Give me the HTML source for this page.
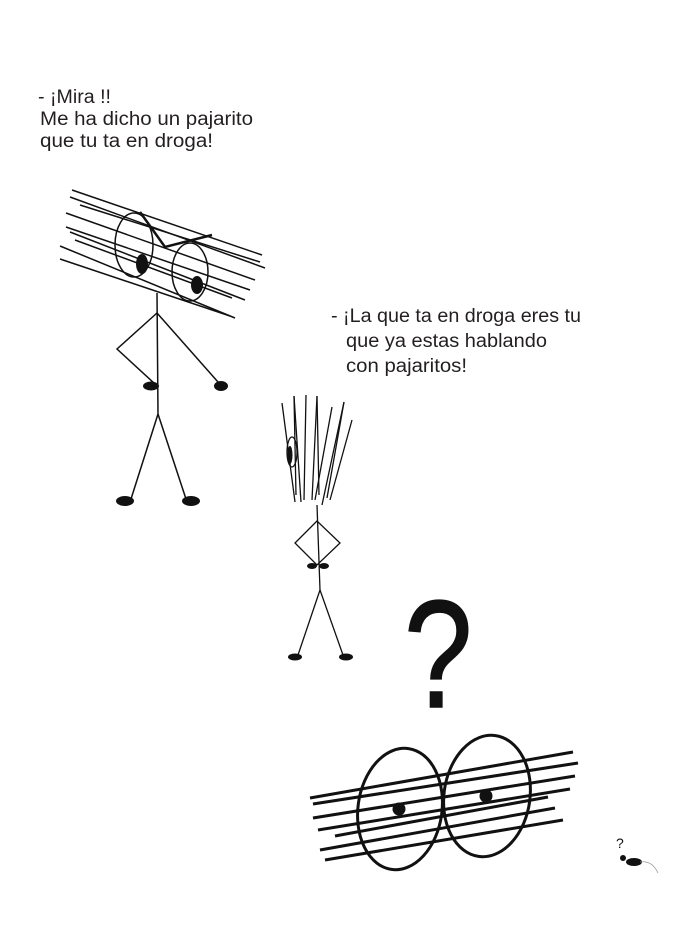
<!DOCTYPE html>
<html><head><meta charset="utf-8"><style>
html,body{margin:0;padding:0;background:#fff;width:691px;height:929px;overflow:hidden}
svg text{font-family:"Liberation Sans",sans-serif;fill:#231f20}
</style></head><body>
<svg width="691" height="929" viewBox="0 0 691 929" xmlns="http://www.w3.org/2000/svg">
<rect width="691" height="929" fill="#fff"/>
<g font-size="19" lengthAdjust="spacingAndGlyphs">
<text x="38" y="103" textLength="73" lengthAdjust="spacingAndGlyphs">- ¡Mira !!</text>
<text x="40" y="125" textLength="213" lengthAdjust="spacingAndGlyphs">Me ha dicho un pajarito</text>
<text x="40" y="147" textLength="173" lengthAdjust="spacingAndGlyphs">que tu ta en droga!</text>
<text x="331" y="322" textLength="250" lengthAdjust="spacingAndGlyphs">- ¡La que ta en droga eres tu</text>
<text x="346" y="347" textLength="201" lengthAdjust="spacingAndGlyphs">que ya estas hablando</text>
<text x="346" y="372" textLength="121" lengthAdjust="spacingAndGlyphs">con pajaritos!</text>
</g>
<!-- figure 1 -->
<g stroke="#111" fill="none" stroke-width="1.5">
<line x1="72" y1="190" x2="262" y2="255"/>
<line x1="70" y1="197" x2="265" y2="268"/>
<line x1="66" y1="213" x2="255" y2="280"/>
<line x1="66" y1="227" x2="250" y2="290"/>
<line x1="75" y1="240" x2="232" y2="298"/>
<line x1="60" y1="246" x2="235" y2="318"/>
<line x1="60" y1="259" x2="230" y2="316"/>
<line x1="80" y1="205" x2="260" y2="262"/>
<line x1="70" y1="232" x2="245" y2="300"/>
<ellipse cx="134" cy="245" rx="19" ry="32"/>
<ellipse cx="190" cy="272" rx="18" ry="29"/>
<polyline points="140,212 165,247 212,235" stroke-width="2.5"/>
<line x1="157" y1="293" x2="158" y2="414"/>
<polyline points="157,313 117,349 155,384"/>
<line x1="157" y1="313" x2="218" y2="382"/>
<line x1="158" y1="414" x2="131" y2="499"/>
<line x1="158" y1="414" x2="186" y2="499"/>
</g>
<g fill="#111">
<ellipse cx="142" cy="264" rx="6" ry="10"/>
<ellipse cx="197" cy="285" rx="6" ry="9"/>
<ellipse cx="151" cy="386" rx="8" ry="4.5"/>
<ellipse cx="221" cy="386" rx="7" ry="5"/>
<ellipse cx="125" cy="501" rx="9" ry="5"/>
<ellipse cx="191" cy="501" rx="9" ry="5"/>
</g>
<!-- figure 2 -->
<g stroke="#111" fill="none" stroke-width="1.3">
<line x1="282" y1="403" x2="295" y2="502"/>
<line x1="294" y1="396" x2="301" y2="502"/>
<line x1="306" y1="395" x2="304" y2="500"/>
<line x1="317" y1="396" x2="312" y2="500"/>
<line x1="332" y1="407" x2="315" y2="500"/>
<line x1="344" y1="402" x2="322" y2="505"/>
<line x1="352" y1="420" x2="330" y2="500"/>
<line x1="294" y1="396" x2="296" y2="495"/>
<line x1="317" y1="396" x2="319" y2="495"/>
<line x1="344" y1="402" x2="327" y2="498"/>
<ellipse cx="292" cy="452" rx="5" ry="15"/>
<line x1="317" y1="505" x2="320" y2="590"/>
<polygon points="317,521 295,543 317,565 340,543"/>
<line x1="320" y1="590" x2="298" y2="655"/>
<line x1="320" y1="590" x2="343" y2="655"/>
</g>
<g fill="#111">
<ellipse cx="290" cy="455" rx="2.5" ry="9"/>
<ellipse cx="312" cy="566" rx="5" ry="3"/>
<ellipse cx="324" cy="566" rx="5" ry="3"/>
<ellipse cx="295" cy="657" rx="7" ry="3.5"/>
<ellipse cx="346" cy="657" rx="7" ry="3.5"/>
</g>
<text x="0" y="0" font-size="150" transform="translate(404,707) scale(0.82,1.02)" style="fill:#111;stroke:#111;stroke-width:1.5">?</text>
<!-- figure 3 -->
<g stroke="#111" fill="none" stroke-width="3">
<line x1="310" y1="798" x2="573" y2="752"/>
<line x1="313" y1="804" x2="578" y2="763"/>
<line x1="313" y1="818" x2="575" y2="776"/>
<line x1="318" y1="830" x2="570" y2="789"/>
<line x1="335" y1="836" x2="548" y2="797"/>
<line x1="320" y1="850" x2="555" y2="808"/>
<line x1="325" y1="860" x2="563" y2="820"/>
<ellipse cx="400" cy="809" rx="42" ry="61" transform="rotate(8 400 809)"/>
<ellipse cx="487" cy="796" rx="43" ry="61" transform="rotate(8 487 796)"/>
</g>
<g fill="#111">
<circle cx="399" cy="809" r="6.5"/>
<circle cx="486" cy="796" r="6.5"/>
<ellipse cx="634" cy="862" rx="8" ry="4"/>
<circle cx="623" cy="858" r="3"/>
</g>
<path d="M640,862 Q652,860 658,873" stroke="#999" fill="none" stroke-width="0.8"/>
<text x="616" y="848" font-size="14" style="fill:#111">?</text>
</svg>
</body></html>
